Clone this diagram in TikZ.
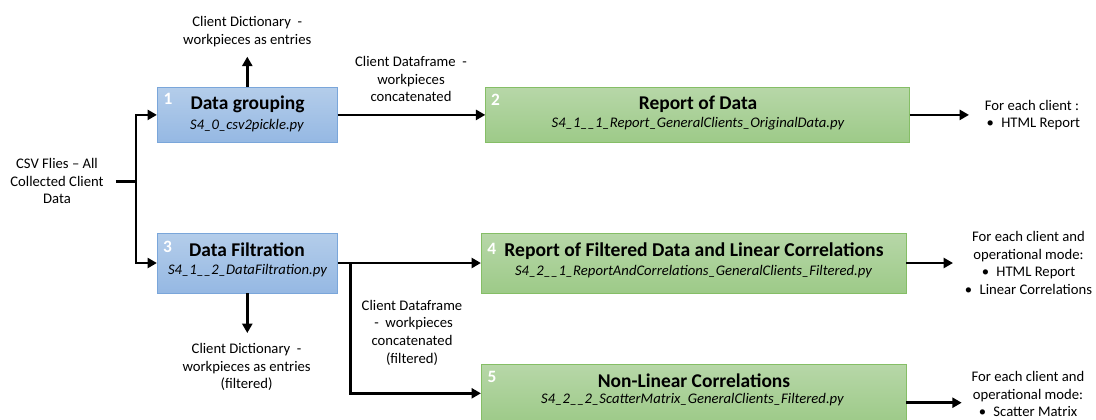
\documentclass[tikz,border=0pt]{standalone}
\usepackage{fontspec}
\setmainfont{Carlito}
\usetikzlibrary{arrows.meta,shadings}

\definecolor{blueT}{HTML}{B4CDEA}
\definecolor{blueB}{HTML}{95B8E3}
\definecolor{blueEdge}{HTML}{7AA6DA}
\definecolor{greenT}{HTML}{B7D7A8}
\definecolor{greenB}{HTML}{9DCA88}
\definecolor{greenEdge}{HTML}{85BE66}

% bullet with a fixed gap before the item text
\newcommand{\itembul}{\makebox[11pt][l]{\textbullet}}

\tikzset{
  procbox/.style={draw, line width=0.6pt, inner sep=0pt},
  bluebox/.style={procbox, draw=blueEdge, top color=blueT, bottom color=blueB},
  greenbox/.style={procbox, draw=greenEdge, top color=greenT, bottom color=greenB},
  ttl/.style={inner sep=0pt, font=\fontsize{14.6}{16}\selectfont\bfseries},
  fname/.style={inner sep=0pt, font=\fontsize{11}{13}\selectfont\itshape},
  num/.style={inner sep=0pt, text=white, font=\fontsize{13}{15}\selectfont\bfseries},
  lbl/.style={inner sep=0pt, align=center, font=\fontsize{11}{13.2}\selectfont},
  ln/.style={line width=2pt},
  arr/.style={line width=2pt, -{Triangle[length=7pt,width=7.5pt]}}
}

\begin{document}
\begin{tikzpicture}[x=0.75pt,y=-0.75pt]
\useasboundingbox (0,0) rectangle (1096,419);

% process boxes
\node[bluebox, minimum width=135pt, minimum height=41.4pt] (b1) at (247.3,114.9) {};
\node[greenbox, minimum width=317.7pt, minimum height=41.4pt] (b2) at (697.5,114.9) {};
\node[bluebox, minimum width=135pt, minimum height=45pt] (b3) at (247.3,263) {};
\node[greenbox, minimum width=318.5pt, minimum height=45pt] (b4) at (693.65,263) {};
\node[greenbox, minimum width=318.5pt, minimum height=43.95pt] (b5) at (693.65,393.3) {};

% box contents
\node[num] (n1) at (168,99) {1};
\node[ttl] (t1) at (247.5,104.3) {Data grouping};
\node[fname] (f1) at (247,125.7) {S4\_0\_csv2pickle.py};

\node[num] (n2) at (495.5,100) {2};
\node[ttl] (t2) at (698,104) {Report of Data};
\node[fname] (f2) at (698,124) {S4\_1\_\_1\_Report\_GeneralClients\_OriginalData.py};

\node[num] (n3) at (167.5,247) {3};
\node[ttl] (t3) at (247,250) {Data Filtration};
\node[fname] (f3) at (247.5,270.7) {S4\_1\_\_2\_DataFiltration.py};

\node[num] (n4) at (491.7,249) {4};
\node[ttl, font=\fontsize{14.7}{16}\selectfont\bfseries] (t4) at (694,250.7) {Report of Filtered Data and Linear Correlations};
\node[fname] (f4) at (693.5,271.3) {S4\_2\_\_1\_ReportAndCorrelations\_GeneralClients\_Filtered.py};

\node[num] (n5) at (492,377) {5};
\node[ttl] (t5) at (694,380.7) {Non-Linear Correlations};
\node[fname] (f5) at (692.5,400) {S4\_2\_\_2\_ScatterMatrix\_GeneralClients\_Filtered.py};

% input data and its split
\node[lbl, inner xsep=9pt] (csv) at (57,181.3) {CSV Flies – All\\Collected Client\\Data};
\coordinate (j) at (136,181.3);
\draw[ln] (csv.east) -- (j);
\draw[arr] (j) |- (b1.west);
\draw[arr] (j) |- (b3.west);

% outputs of step 1
\coordinate (o1) at (247.3,56.7);
\draw[arr] (b1.north) -- (o1);
\node[lbl] (dict1) at (247.3,31.5) {Client Dictionary \ -\\workpieces as entries};
\draw[arr] (b1.east) -- (b2.west);
\node[lbl] (df1) at (411,79.3) {Client Dataframe \ -\\workpieces\\concatenated};

% output of step 2
\coordinate (o2) at (969,114.9);
\draw[arr] (b2.east) -- (o2);
\node[lbl, align=left, anchor=west] (out2) at (984.6,115) {For each client :\\\hspace*{1.3pt}\itembul HTML Report};

% outputs of step 3
\draw[arr] (b3.east) -- (b4.west);
\coordinate (k) at (350.7,263);
\draw[arr] (k) |- (b5.west);
\coordinate (o3) at (247.3,333);
\draw[arr] (b3.south) -- (o3);
\node[lbl] (dict2) at (246.6,367) {Client Dictionary \ -\\workpieces as entries\\(filtered)};
\node[lbl] (df2) at (412,332.6) {Client Dataframe\\ \ - \ workpieces\\concatenated\\(filtered)};

% outputs of steps 4 and 5
\coordinate (o4) at (953,263);
\draw[arr] (b4.east) -- (o4);
\node[lbl] (out4) at (1028.5,263) {For each client and\\operational mode:\\\itembul HTML Report\\\itembul Linear Correlations};

\coordinate (o5) at (961.7,402.7);
\draw[arr] ([yshift=-7.05pt]b5.east) -- (o5);
\node[lbl] (out5) at (1028,394) {For each client and\\operational mode:\\\itembul Scatter Matrix};
\end{tikzpicture}
\end{document}
